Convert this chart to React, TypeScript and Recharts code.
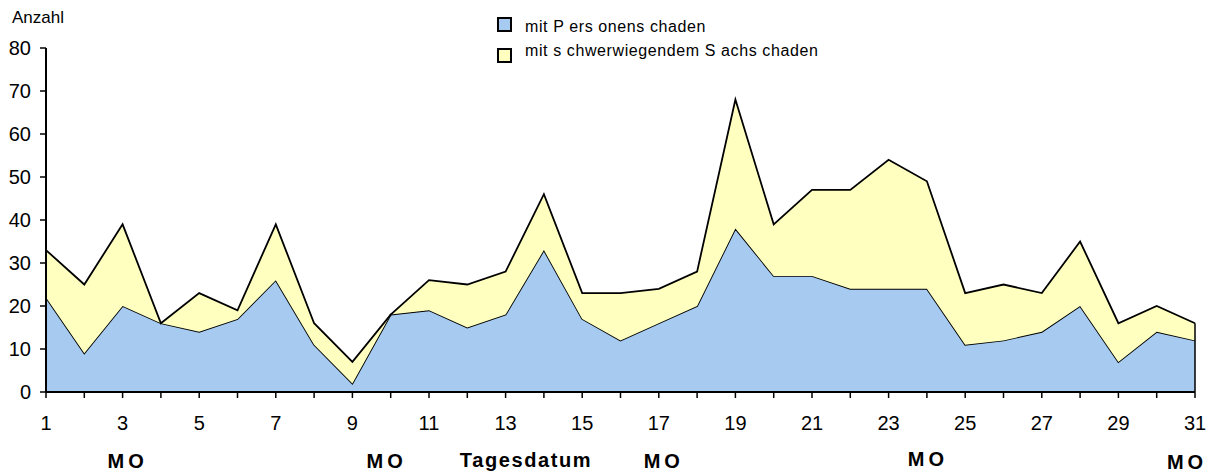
import React from 'react';
import { AreaChart, Area, XAxis, YAxis, ReferenceLine } from 'recharts';

const days = [1,2,3,4,5,6,7,8,9,10,11,12,13,14,15,16,17,18,19,20,21,22,23,24,25,26,27,28,29,30,31];
const personenschaden = [22,9,20,16,14,17,26,11,2,18,19,15,18,33,17,12,16,20,38,27,27,24,24,24,11,12,14,20,7,14,12];
const sachschaden = [11,16,19,0,9,2,13,5,5,0,7,10,10,13,6,11,8,8,30,12,20,23,30,25,12,13,9,15,9,6,4];
const mondays = [3,10,17,24,31];
const yTicks = [0,10,20,30,40,50,60,70,80];
const seriesNames = ['mit P ers onens chaden', 'mit s chwerwiegendem S achs chaden'];
const colors = ['#A6CAF0', '#FFFFC0'];

const data = days.map((d, i) => ({ day: d, p: personenschaden[i], s: sachschaden[i] }));

const FONT = 'Liberation Sans, Arial, sans-serif';
const moShift: Record<number, [number, number]> = { 3: [3, 0], 10: [-6, 0], 17: [3, 0], 24: [-1, -2], 31: [-10, 1] };

const XTick = (props: any) => {
  const { x, y, payload } = props;
  const v = payload.value as number;
  const isMo = mondays.includes(v);
  const sh = moShift[v] || [0, 0];
  return (
    <g>
      {v % 2 === 1 && (
        <text x={x} y={y + 32} textAnchor="middle" fontSize={20} fontFamily={FONT} fill="#000">{v}</text>
      )}
      {isMo && (
        <text x={x + sh[0] + 2} y={y + 70 + sh[1]} textAnchor="middle" fontSize={20} fontWeight="bold" letterSpacing={4} fontFamily={FONT} fill="#000">MO</text>
      )}
    </g>
  );
};

const YTick = (props: any) => {
  const { y, payload } = props;
  return (
    <text x={31} y={y} dy="0.36em" textAnchor="end" fontSize={20} fontFamily={FONT} fill="#000">{payload.value}</text>
  );
};

export default function App() {
  return (
    <div style={{ position: 'absolute', left: 0, top: 0, width: 1214, height: 472, background: '#fff' }}>
      <AreaChart width={1214} height={472} data={data} margin={{ top: 48, right: 19, bottom: 50, left: 0 }}>
        <XAxis
          dataKey="day"
          type="number"
          domain={[1, 31]}
          ticks={days}
          interval={0}
          tick={<XTick />}
          tickSize={6}
          tickMargin={0}
          height={30}
          axisLine={{ stroke: '#000', strokeWidth: 2 }}
          tickLine={{ stroke: '#000', strokeWidth: 1.5 }}
          label={{
            content: () => (
              <text x={526} y={467} textAnchor="middle" fontSize={20} fontWeight="bold" letterSpacing={1.6} fontFamily={FONT} fill="#000">Tagesdatum</text>
            ),
          }}
        />
        <YAxis
          domain={[0, 80]}
          ticks={yTicks}
          width={46}
          tick={<YTick />}
          tickSize={6}
          tickMargin={9}
          axisLine={{ stroke: '#000', strokeWidth: 2 }}
          tickLine={{ stroke: '#000', strokeWidth: 1.5 }}
          label={{
            content: () => (
              <text x={12} y={23} fontSize={17} fontFamily={FONT} fill="#000">Anzahl</text>
            ),
          }}
        />
        <Area type="linear" dataKey="p" name={seriesNames[0]} stackId="1" stroke="#000" strokeWidth={1.8} fill={colors[0]} fillOpacity={1} isAnimationActive={false} />
        <Area type="linear" dataKey="s" name={seriesNames[1]} stackId="1" stroke="#000" strokeWidth={1.8} fill={colors[1]} fillOpacity={1} isAnimationActive={false} />
        <ReferenceLine segment={[{ x: 31, y: 0 }, { x: 31, y: personenschaden[30] + sachschaden[30] }]} stroke="#000" strokeWidth={1.5} />
      </AreaChart>
      <svg width={400} height={70} style={{ position: 'absolute', left: 480, top: 0 }}>
        <rect x={18} y={18} width={13} height={13} fill={colors[0]} stroke="#000" strokeWidth={2} />
        <text x={45} y={32} fontSize={16} letterSpacing={0.6} fontFamily={FONT} fill="#000">{seriesNames[0]}</text>
        <rect x={18} y={49} width={13} height={13} fill={colors[1]} stroke="#000" strokeWidth={2} />
        <text x={45} y={56} fontSize={16} letterSpacing={0.6} fontFamily={FONT} fill="#000">{seriesNames[1]}</text>
      </svg>
    </div>
  );
}
